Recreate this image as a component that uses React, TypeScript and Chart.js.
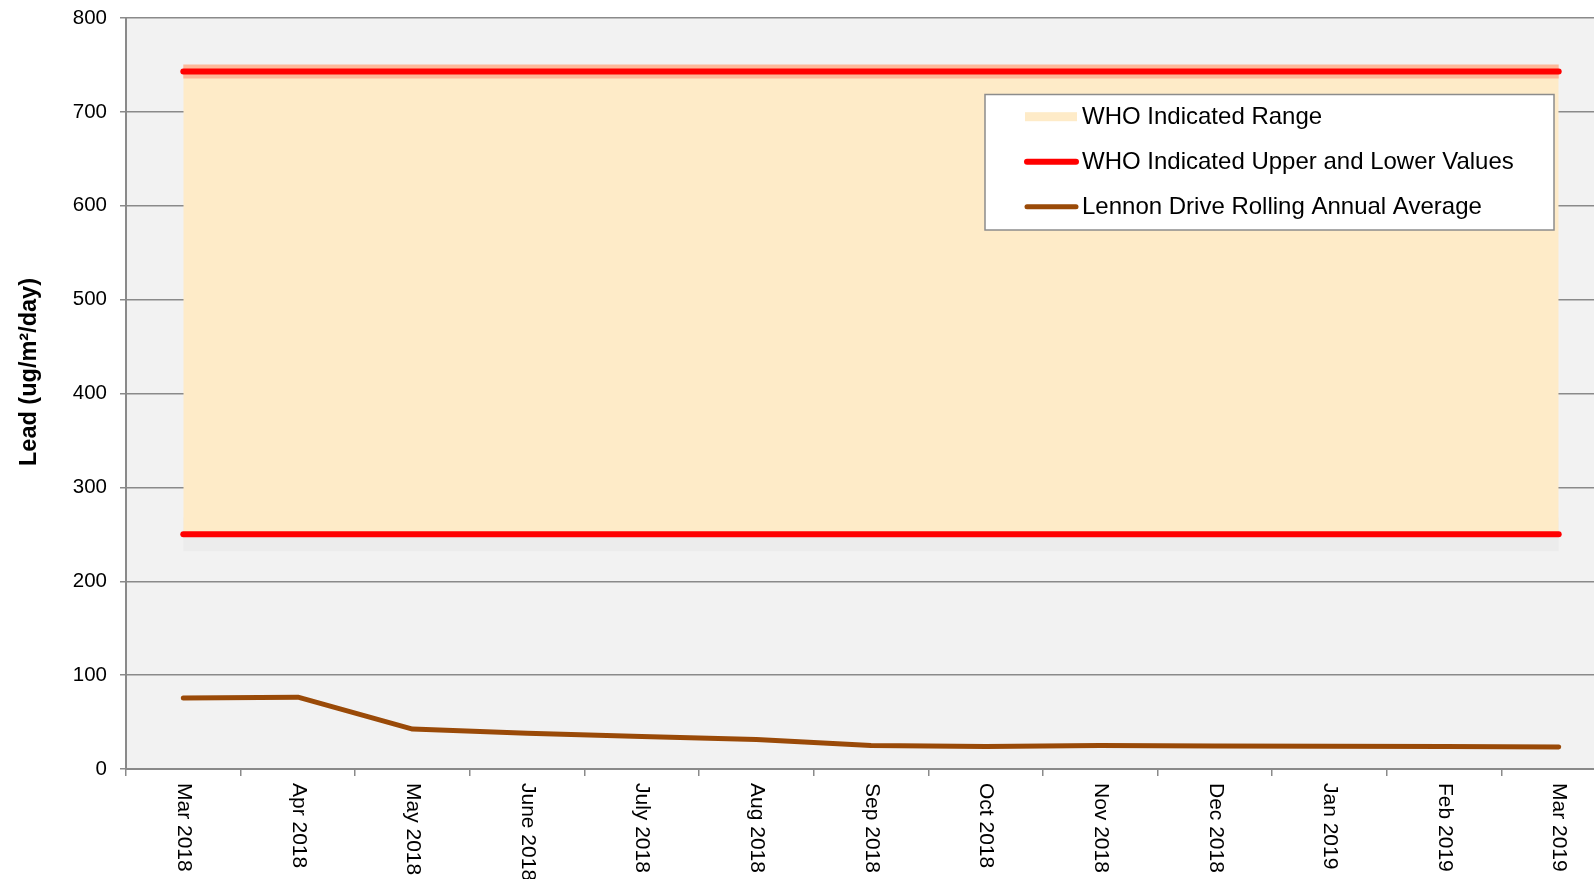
import React, { useEffect, useRef } from "react";
import { Chart, registerables } from "chart.js";

Chart.register(...registerables);

const months = [
  "Mar 2018", "Apr 2018", "May 2018", "June 2018", "July 2018", "Aug 2018", "Sep 2018",
  "Oct 2018", "Nov 2018", "Dec 2018", "Jan 2019", "Feb 2019", "Mar 2019",
];
const lennonDrive = [75.5, 76.5, 42.5, 38, 34.5, 31.5, 25, 24, 25, 24.5, 24.3, 24, 23.5];
const whoUpper = [743, 743, 743, 743, 743, 743, 743, 743, 743, 743, 743, 743, 743];
const whoLower = [250, 250, 250, 250, 250, 250, 250, 250, 250, 250, 250, 250, 250];
const yMin = 0;
const yMax = 800;
const yStep = 100;
const yTitle = "Lead (ug/m\u00B2/day)";

const FONT = "'Liberation Sans', Arial, sans-serif";
const GRID = "#8a8a8a";

const plotBg = {
  id: "plotBg",
  beforeDraw(chart: any) {
    const { ctx, chartArea } = chart;
    ctx.save();
    ctx.fillStyle = "#f2f2f2";
    ctx.fillRect(chartArea.left, chartArea.top, chartArea.right - chartArea.left, chartArea.bottom - chartArea.top);
    ctx.restore();
  },
};

const customText = {
  id: "customText",
  afterDraw(chart: any) {
    const { ctx, chartArea } = chart;
    const xs = chart.scales.x;
    // x labels, rotated clockwise
    ctx.save();
    ctx.fillStyle = "#000";
    ctx.font = `21px ${FONT}`;
    ctx.textAlign = "left";
    ctx.textBaseline = "middle";
    chart.data.labels.forEach((lab: string, i: number) => {
      const x = xs.getPixelForValue(i);
      ctx.save();
      ctx.translate(x + 0.5, chartArea.bottom + 14);
      ctx.rotate(Math.PI / 2);
      ctx.fillText(lab, 0, 0);
      ctx.restore();
    });
    ctx.restore();

    // y title
    ctx.save();
    ctx.fillStyle = "#000";
    ctx.font = `bold 23.5px ${FONT}`;
    ctx.textAlign = "center";
    ctx.textBaseline = "middle";
    ctx.translate(30, 372);
    ctx.rotate(-Math.PI / 2);
    ctx.fillText(yTitle, 0, 0);
    ctx.restore();

    // legend box
    const bx = 985, by = 94.5, bw = 569, bh = 135.5;
    ctx.save();
    ctx.fillStyle = "#ffffff";
    ctx.fillRect(bx, by, bw, bh);
    ctx.strokeStyle = "#8c8c8c";
    ctx.lineWidth = 1.5;
    ctx.strokeRect(bx, by, bw, bh);
    const items = chart.data.datasets.filter((d: any) => d.label);
    items.forEach((d: any, i: number) => {
      const cy = 116.7 + i * 45;
      if (d.fill) {
        ctx.fillStyle = d.backgroundColor;
        ctx.fillRect(1025, cy - 4.5, 52, 9);
      } else {
        ctx.strokeStyle = d.borderColor;
        ctx.lineWidth = d.borderWidth;
        ctx.lineCap = "round";
        ctx.beginPath();
        ctx.moveTo(1027, cy);
        ctx.lineTo(1076, cy);
        ctx.stroke();
      }
      ctx.fillStyle = "#000";
      ctx.font = `24px ${FONT}`;
      ctx.textAlign = "left";
      ctx.textBaseline = "middle";
      ctx.fillText(d.label, 1082, cy + 1);
    });
    ctx.restore();
  },
};

export default function App() {
  const ref = useRef<HTMLCanvasElement | null>(null);

  useEffect(() => {
    if (!ref.current) return;
    const chart = new Chart(ref.current, {
      type: "line",
      data: {
        labels: months,
        datasets: [
          {
            label: "WHO Indicated Range",
            data: whoUpper,
            borderWidth: 0,
            borderColor: "rgba(0,0,0,0)",
            backgroundColor: "#feebc8",
            fill: { target: 3 },
            pointRadius: 0,
            order: 5,
          },
          {
            label: "",
            data: whoUpper,
            borderColor: "#fdb89a",
            borderWidth: 14,
            borderCapStyle: "butt",
            pointRadius: 0,
            fill: false,
            order: 4,
          },
          {
            label: "WHO Indicated Upper and Lower Values",
            data: whoUpper,
            borderColor: "#ff0000",
            borderWidth: 6,
            borderCapStyle: "round",
            pointRadius: 0,
            fill: false,
            order: 3,
          },
          {
            label: "",
            data: whoLower,
            borderColor: "#ff0000",
            borderWidth: 6,
            borderCapStyle: "round",
            pointRadius: 0,
            fill: false,
            order: 3,
          },
          {
            label: "Lennon Drive Rolling Annual Average",
            data: lennonDrive,
            borderColor: "#9a4a08",
            borderWidth: 5,
            borderCapStyle: "round",
            borderJoinStyle: "round",
            pointRadius: 0,
            fill: false,
            tension: 0,
            order: 1,
          },
          {
            label: "",
            data: whoLower,
            borderColor: "rgba(0,0,0,0.025)",
            borderWidth: 34,
            borderCapStyle: "butt",
            pointRadius: 0,
            fill: false,
            order: 6,
          },
        ],
      },
      options: {
        animation: false,
        responsive: false,
        maintainAspectRatio: false,
        devicePixelRatio: 1,
        layout: { padding: { top: 18, left: 0, right: 0, bottom: 0 } },
        plugins: {
          legend: { display: false },
          tooltip: { enabled: false },
          title: { display: false },
        },
        scales: {
          x: {
            type: "category",
            offset: true,
            grid: {
              display: true,
              drawOnChartArea: false,
              drawTicks: true,
              tickLength: 7,
              offset: true,
              color: GRID,
              lineWidth: 1.5,
            },
            border: { display: true, color: GRID, width: 2 },
            ticks: { display: false },
            afterFit(scale: any) {
              scale.height = 110;
              scale.paddingLeft = 0;
              scale.paddingRight = 0;
            },
          },
          y: {
            min: yMin,
            max: yMax,
            ticks: {
              stepSize: yStep,
              color: "#000",
              font: { family: FONT, size: 20.5 },
              padding: 13,
            },
            grid: {
              color: GRID,
              lineWidth: 1.5,
              drawTicks: true,
              tickLength: 6,
            },
            border: { display: true, color: GRID, width: 2 },
            afterFit(scale: any) {
              scale.width = 126;
              scale.paddingTop = 0;
              scale.paddingBottom = 0;
            },
          },
        },
      },
      plugins: [plotBg, customText],
    });
    return () => chart.destroy();
  }, []);

  return (
    <div
      style={{
        position: "fixed",
        left: 0,
        top: 0,
        width: 1594,
        height: 879,
        overflow: "hidden",
        background: "#fff",
      }}
    >
      <canvas ref={ref} width={1616} height={879} style={{ width: 1616, height: 879, display: "block" }} />
    </div>
  );
}
